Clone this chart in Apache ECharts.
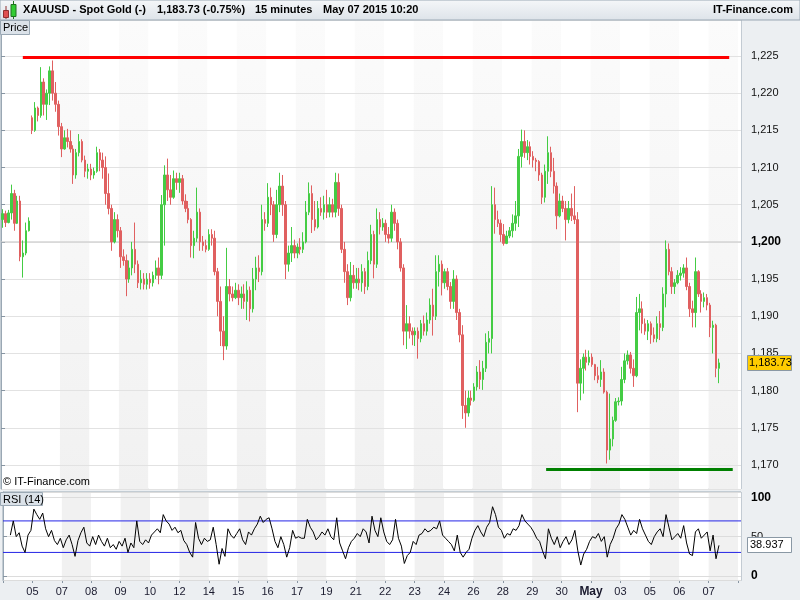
<!DOCTYPE html>
<html><head><meta charset="utf-8">
<script src="https://cdn.jsdelivr.net/npm/echarts@6/dist/echarts.min.js"></script>
<style>html,body{margin:0;padding:0;background:#eceff2;}#c{width:800px;height:600px;}</style>
</head><body><div id="c"></div>
<script>
// ---- data ----
const dayStartLabels = ['', '05','07','08','09','10','12','14','15','16','17','19','21','22','23','24','26','28','29','30','May','03','05','06','07'];
const shadedDays = [2,4,6,8,10,12,14,16,18,20,22,24];
const candlesPerDay = 10;

const opens = [
1203.0,1203.8,1202.6,1203.9,1206.5,1202.5,1205.5,1198.0,1198.5,1201.5,
1216.7,1215.0,1218.0,1217.0,1221.5,1218.5,1220.0,1223.0,1220.0,1218.5,
1215.5,1212.5,1214.0,1213.5,1212.5,1209.0,1212.0,1213.5,1211.0,1209.5,
1209.8,1209.0,1209.5,1212.0,1211.0,1210.0,1206.5,1204.5,1200.0,1203.0,
1201.5,1198.0,1197.5,1195.0,1196.5,1199.0,1197.0,1194.5,1195.0,1194.3,
1195.0,1194.5,1195.5,1196.5,1195.5,1205.0,1209.0,1207.0,1206.0,1208.5,
1208.0,1208.5,1205.5,1204.5,1203.0,1199.5,1200.5,1204.0,1200.0,1199.5,
1199.0,1201.0,1200.5,1196.0,1192.0,1188.0,1186.0,1194.0,1193.0,1192.5,
1193.5,1192.5,1193.0,1192.0,1193.5,1191.0,1195.0,1196.5,1196.0,1203.0,
1202.5,1206.0,1205.0,1201.0,1205.0,1207.5,1205.0,1197.0,1198.5,1199.5,
1198.5,1199.3,1199.0,1200.0,1204.0,1206.5,1203.0,1202.0,1204.5,1204.0,
1205.0,1204.0,1205.0,1204.0,1208.0,1204.5,1199.0,1196.0,1192.5,1195.5,
1194.5,1195.0,1194.5,1196.0,1194.0,1197.5,1201.0,1197.0,1203.0,1202.0,
1202.5,1201.0,1200.5,1204.0,1202.5,1200.0,1196.5,1188.0,1189.0,1188.0,
1187.5,1188.0,1187.0,1189.0,1188.0,1189.5,1191.5,1190.0,1196.0,1197.0,
1194.5,1196.0,1194.0,1192.0,1195.0,1190.5,1187.5,1178.0,1177.0,1179.0,
1178.7,1180.5,1182.5,1181.5,1183.0,1186.5,1187.0,1205.0,1203.0,1202.5,
1201.0,1199.8,1200.8,1201.5,1202.5,1203.5,1211.5,1213.5,1212.0,1212.8,
1211.5,1211.0,1210.8,1209.0,1206.0,1209.5,1212.0,1209.5,1207.5,1203.5,
1205.5,1204.5,1203.0,1204.5,1203.5,1203.0,1181.0,1183.0,1184.5,1183.8,
1184.5,1183.5,1182.0,1181.5,1182.5,1179.8,1172.0,1173.5,1176.0,1178.5,
1178.6,1181.5,1184.0,1184.8,1183.0,1182.0,1190.5,1191.0,1189.0,1188.0,
1189.0,1187.5,1187.0,1189.0,1188.5,1193.0,1199.0,1196.0,1194.0,1194.5,
1195.5,1195.8,1196.5,1194.0,1191.0,1190.5,1196.0,1193.0,1192.0,1192.5,
1191.5,1188.5,1188.8,1183.0];
const closes = [
1203.8,1202.6,1203.9,1206.5,1202.5,1205.5,1198.0,1198.5,1201.5,1202.8,
1215.0,1218.0,1217.0,1221.5,1218.5,1220.0,1223.0,1220.0,1218.5,1215.5,
1212.5,1214.0,1213.5,1212.5,1209.0,1212.0,1213.5,1211.0,1209.5,1209.8,
1209.0,1209.5,1212.0,1211.0,1210.0,1206.5,1204.5,1200.0,1203.0,1201.5,
1198.0,1197.5,1195.0,1196.5,1199.0,1197.0,1194.5,1195.0,1194.3,1195.0,
1194.5,1195.5,1196.5,1195.5,1205.0,1209.0,1207.0,1206.0,1208.5,1208.0,
1208.5,1205.5,1204.5,1203.0,1199.5,1200.5,1204.0,1200.0,1199.5,1199.0,
1201.0,1200.5,1196.0,1192.0,1188.0,1186.0,1194.0,1193.0,1192.5,1193.5,
1192.5,1193.0,1192.0,1193.5,1191.0,1195.0,1196.5,1196.0,1203.0,1202.5,
1206.0,1205.0,1201.0,1205.0,1207.5,1205.0,1197.0,1198.5,1199.5,1198.5,
1199.3,1199.0,1200.0,1204.0,1206.5,1203.0,1202.0,1204.5,1204.0,1205.0,
1204.0,1205.0,1204.0,1208.0,1204.5,1199.0,1196.0,1192.5,1195.5,1194.5,
1195.0,1194.5,1196.0,1194.0,1197.5,1201.0,1197.0,1203.0,1202.0,1202.5,
1201.0,1200.5,1204.0,1202.5,1200.0,1196.5,1188.0,1189.0,1188.0,1187.5,
1188.0,1187.0,1189.0,1188.0,1189.5,1191.5,1190.0,1196.0,1197.0,1194.5,
1196.0,1194.0,1192.0,1195.0,1190.5,1187.5,1178.0,1177.0,1179.0,1178.7,
1180.5,1182.5,1181.5,1183.0,1186.5,1187.0,1205.0,1203.0,1202.5,1201.0,
1199.8,1200.8,1201.5,1202.5,1203.5,1211.5,1213.5,1212.0,1212.8,1211.5,
1211.0,1210.8,1209.0,1206.0,1209.5,1212.0,1209.5,1207.5,1203.5,1205.5,
1204.5,1203.0,1204.5,1203.5,1203.0,1181.0,1183.0,1184.5,1183.8,1184.5,
1183.5,1182.0,1181.5,1182.5,1179.8,1172.0,1173.5,1176.0,1178.5,1178.6,
1181.5,1184.0,1184.8,1183.0,1182.0,1190.5,1191.0,1189.0,1188.0,1189.0,
1187.5,1187.0,1189.0,1188.5,1193.0,1199.0,1196.0,1194.0,1194.5,1195.5,
1195.8,1196.5,1194.0,1191.0,1190.5,1196.0,1193.0,1192.0,1192.5,1191.5,
1188.5,1188.8,1183.0,1183.73];
const lows = [
1201.9,1202.0,1202.5,1203.0,1201.5,1202.4,1197.4,1195.2,1198.2,1201.4,
1214.5,1214.8,1216.2,1216.7,1217.0,1216.4,1218.4,1219.0,1217.5,1214.3,
1211.4,1212.4,1212.7,1212.0,1207.8,1208.5,1211.5,1210.7,1208.7,1208.5,
1208.3,1208.5,1209.3,1209.5,1208.5,1205.0,1203.7,1198.8,1199.8,1200.6,
1196.5,1196.8,1192.7,1194.5,1195.5,1195.8,1193.8,1193.6,1193.6,1193.6,
1193.7,1194.0,1195.0,1194.3,1195.0,1199.5,1205.5,1205.0,1205.8,1207.0,
1206.6,1205.0,1204.0,1202.5,1197.9,1197.8,1200.0,1198.8,1198.8,1198.6,
1198.8,1199.5,1195.5,1190.0,1186.0,1184.1,1185.5,1192.0,1192.0,1192.3,
1191.5,1191.0,1191.0,1189.5,1189.3,1190.5,1193.5,1194.6,1195.5,1201.5,
1202.0,1203.6,1200.0,1200.5,1204.0,1203.5,1195.0,1196.0,1197.3,1197.8,
1197.8,1198.3,1198.5,1199.8,1203.6,1201.2,1201.5,1201.8,1203.5,1203.0,
1203.2,1203.3,1203.3,1203.3,1203.5,1198.5,1194.5,1191.5,1192.0,1193.7,
1193.7,1193.5,1193.3,1193.0,1193.5,1197.0,1195.1,1196.5,1201.0,1201.5,
1200.0,1199.8,1200.0,1201.5,1199.0,1196.0,1186.1,1185.6,1187.0,1186.1,
1186.0,1184.3,1186.5,1187.4,1187.4,1189.0,1187.4,1189.5,1194.0,1192.8,
1193.7,1193.5,1191.0,1191.0,1189.5,1186.5,1176.2,1175.0,1176.5,1178.0,
1178.5,1180.0,1180.2,1180.1,1182.5,1185.0,1185.0,1201.1,1202.0,1200.0,
1199.5,1199.7,1200.5,1200.6,1201.5,1202.0,1210.0,1211.3,1211.0,1210.4,
1210.0,1209.5,1208.2,1205.1,1205.3,1207.8,1208.7,1206.5,1201.7,1203.3,
1204.0,1200.2,1202.5,1202.8,1202.4,1177.1,1178.7,1179.6,1182.7,1183.4,
1183.2,1181.4,1181.0,1180.5,1179.6,1170.2,1170.7,1172.5,1175.8,1178.0,
1178.0,1181.0,1183.5,1182.3,1180.5,1181.8,1188.1,1187.7,1187.5,1186.8,
1186.3,1186.5,1186.5,1186.8,1188.0,1191.2,1195.5,1193.0,1193.0,1194.3,
1194.8,1195.2,1193.5,1189.9,1188.5,1188.5,1192.6,1190.5,1191.2,1190.8,
1187.2,1185.0,1181.8,1181.0];
const highs = [
1204.4,1204.2,1204.3,1207.7,1207.0,1206.2,1206.2,1200.2,1202.6,1203.3,
1217.0,1218.8,1218.2,1223.5,1222.0,1220.5,1223.6,1224.4,1221.5,1219.0,
1216.0,1215.0,1215.2,1215.0,1213.0,1212.5,1214.5,1213.8,1211.6,1210.5,
1210.5,1210.0,1212.8,1212.5,1212.0,1211.5,1209.2,1205.0,1204.0,1203.7,
1202.0,1199.0,1198.3,1197.5,1200.0,1202.6,1197.5,1196.2,1195.8,1195.8,
1195.8,1196.0,1197.5,1197.9,1206.3,1210.3,1211.2,1209.0,1209.6,1209.3,
1209.3,1209.0,1206.4,1205.5,1203.2,1201.5,1207.3,1204.5,1200.8,1200.3,
1201.7,1201.7,1201.5,1196.5,1194.0,1190.0,1199.2,1195.0,1194.0,1194.5,
1194.3,1194.0,1194.3,1194.7,1194.0,1196.5,1198.0,1198.2,1205.0,1204.0,
1207.9,1207.3,1205.5,1207.0,1209.3,1209.0,1205.5,1199.5,1202.0,1200.3,
1199.8,1200.5,1201.3,1205.5,1208.0,1207.6,1205.5,1205.5,1206.0,1206.2,
1207.0,1206.0,1205.8,1209.3,1209.2,1205.0,1200.0,1197.0,1197.3,1196.9,
1196.5,1196.5,1197.0,1196.5,1198.7,1202.3,1201.5,1204.5,1204.0,1203.2,
1203.0,1202.0,1205.0,1204.5,1203.0,1200.5,1197.0,1191.5,1190.0,1188.5,
1188.5,1188.5,1189.5,1190.1,1190.5,1192.4,1193.7,1198.2,1198.2,1197.5,
1196.4,1196.5,1194.6,1196.2,1195.5,1191.0,1188.8,1180.0,1180.0,1180.0,
1181.0,1183.3,1184.1,1184.0,1187.7,1188.0,1207.5,1207.3,1204.2,1203.0,
1202.4,1201.5,1202.0,1203.7,1205.5,1212.5,1215.1,1215.0,1213.7,1213.5,
1212.2,1211.3,1211.0,1209.3,1210.4,1214.2,1212.8,1211.3,1208.0,1206.5,
1206.2,1205.5,1205.5,1206.5,1207.5,1204.0,1184.2,1185.0,1185.5,1185.4,
1185.0,1183.6,1183.2,1184.1,1183.0,1180.0,1179.6,1176.5,1179.0,1179.1,
1183.2,1185.0,1185.4,1185.2,1184.2,1192.6,1193.0,1192.0,1189.7,1189.5,
1189.3,1188.5,1190.0,1190.7,1193.9,1200.2,1199.8,1196.6,1195.0,1196.2,
1196.6,1197.0,1197.9,1194.5,1192.1,1197.9,1196.2,1193.5,1193.2,1193.0,
1191.8,1189.4,1189.0,1184.3];
const rsi14 = [
null,null,52,70,50,55,38,30,52,58,
85,78,72,80,60,50,58,45,40,48,
36,46,52,40,25,45,55,62,42,38,
50,40,52,44,38,48,36,40,34,44,
38,48,30,42,36,70,44,40,46,42,
52,56,60,55,78,70,66,58,62,55,
58,45,40,30,24,68,48,40,48,44,
46,62,40,15,35,25,60,52,48,54,
60,46,40,56,52,60,66,76,68,72,
74,60,44,36,50,40,24,36,58,48,
50,48,48,72,62,56,46,50,56,52,
60,50,46,74,42,32,22,36,44,48,
54,50,60,56,42,76,58,50,74,56,
44,40,46,72,48,38,16,26,30,44,
40,52,54,60,56,58,62,60,70,52,
48,44,40,32,52,30,24,30,34,48,
58,64,56,50,62,68,88,78,62,58,
48,54,52,60,58,64,78,70,66,62,
56,48,44,32,22,60,48,40,50,36,
44,50,40,46,58,32,14,28,34,44,
50,48,54,44,50,24,40,48,60,66,
78,72,62,52,58,54,72,60,52,44,
40,50,56,60,50,78,62,46,50,54,
48,64,42,28,26,56,60,48,52,56,
32,52,22,38.937];
const rsiOverbought = 70;
const rsiOversold = 30;
const resistance = {fromDay: 0.74, toDay: 24.70, price: 1224.8};
const support = {fromDay: 18.49, toDay: 24.82, price: 1169.4};
const pivotLevel = 1200;
const lastPrice = 1183.73;
const lastRsi = 38.937;

// ---- build ----
const FONT = 'Liberation Sans, Arial, sans-serif';
const nDays = dayStartLabels.length;      // 25 day slots
const axisDays = nDays + 0.1;             // a small empty margin at the right edge
const categories = [];
for (let d = 0; d < nDays; d++) for (let j = 0; j < candlesPerDay; j++) categories.push(d + '_' + j);
categories.push('pad');
const candleData = opens.map((o, i) => [o, closes[i], lows[i], highs[i]]);

const grayGrad = new echarts.graphic.LinearGradient(0,0,0,1,[{offset:0,color:'#fbfbfb'},{offset:1,color:'#f1f1f1'}]);
const mainBand = [], rsiBand = [];
for (let d = 0; d < nDays; d++) {
  const s = shadedDays.indexOf(d) >= 0;
  mainBand.push(s ? grayGrad : '#ffffff');
  rsiBand.push(s ? '#f1f1f1' : '#ffffff');
}
mainBand.push('#ffffff'); rsiBand.push('#ffffff');
const comma = v => { const s = String(Math.round(v)); return s.length > 3 ? s.slice(0,-3) + ',' + s.slice(-3) : s; };
const hLine = (name, xIdx, yIdx, from, to, val, color, width, z) => ({
  type: 'line', name: name, xAxisIndex: xIdx, yAxisIndex: yIdx, silent: true, symbol: 'none',
  data: [[from, val], [to, val]], lineStyle: {color: color, width: width}, itemStyle: {color: color}, z: z});

const UP = '#44cc44', DOWN = '#e06060';
const chart = echarts.init(document.getElementById('c'));
const option = {
  animation: false,
  textStyle: {fontFamily: FONT},
  grid: [
    {left: 1, right: 59, top: 20, height: 469, show: true, backgroundColor: '#ffffff', borderColor: '#9aa8b4', borderWidth: 1},
    {left: 1, right: 59, top: 492, height: 88, show: true, backgroundColor: '#ffffff', borderColor: '#9aa8b4', borderWidth: 1}
  ],
  xAxis: [
    {type: 'category', gridIndex: 0, data: categories, show: false, boundaryGap: true, position: 'top'},
    {type: 'category', gridIndex: 1, data: categories, show: false, boundaryGap: true, position: 'top'},
    {type: 'value', gridIndex: 0, min: 0, max: axisDays, interval: 1, position: 'bottom', z: 0,
      axisLine: {show: false}, axisTick: {show: false}, axisLabel: {show: false}, splitLine: {show: false},
      splitArea: {show: true, areaStyle: {color: mainBand}}},
    {type: 'value', gridIndex: 1, min: 0, max: axisDays, interval: 1, position: 'bottom', z: 0,
      axisLine: {show: true, lineStyle: {color: '#9aa8b4'}},
      axisTick: {show: true, length: 3, lineStyle: {color: '#8795a2'}},
      axisLabel: {show: true, margin: 6, fontSize: 11, color: '#1a1a2e', fontFamily: FONT, showMaxLabel: false,
        formatter: v => { const t = dayStartLabels[v] || ''; return t === 'May' ? '{b|May}' : t; },
        rich: {b: {fontWeight: 'bold', fontSize: 12, color: '#1a1a2e', fontFamily: FONT}}},
      splitLine: {show: false},
      splitArea: {show: true, areaStyle: {color: rsiBand}}}
  ],
  yAxis: [
    {type: 'value', gridIndex: 0, position: 'right', min: 1166.77, max: 1229.84, splitNumber: 12, z: 1,
      axisLine: {show: true, lineStyle: {color: '#9aa8b4'}},
      axisTick: {show: true, length: 4, lineStyle: {color: '#8795a2'}},
      axisLabel: {margin: 10, fontSize: 11, color: '#111', fontFamily: FONT, showMinLabel: false, showMaxLabel: false,
        formatter: v => (Math.abs(v % 5) > 0.01 ? '' : (Math.round(v) === pivotLevel ? '{b|' + comma(v) + '}' : comma(v))),
        rich: {b: {fontWeight: 'bold', fontSize: 12, color: '#000', fontFamily: FONT}}},
      splitLine: {show: true, lineStyle: {color: '#e2e2e2'}}},
    {type: 'value', gridIndex: 1, position: 'right', min: -5, max: 106.7, splitNumber: 2, z: 1,
      axisLine: {show: true, lineStyle: {color: '#9aa8b4'}},
      axisTick: {show: true, length: 4, lineStyle: {color: '#8795a2'}},
      axisLabel: {margin: 10, fontSize: 11, color: '#111', fontFamily: FONT, showMinLabel: false, showMaxLabel: false,
        formatter: v => (v === 50 ? '50' : (v === 0 || v === 100 ? '{b|' + v + '}' : '')),
        rich: {b: {fontWeight: 'bold', fontSize: 12, color: '#000', fontFamily: FONT}}},
      splitLine: {show: true, lineStyle: {color: '#dcdcdc'}}}
  ],
  series: [
    {type: 'candlestick', name: 'XAUUSD', xAxisIndex: 0, yAxisIndex: 0, data: candleData, barWidth: 2,
      itemStyle: {color: UP, color0: DOWN, borderColor: UP, borderColor0: DOWN, borderWidth: 1}},
    hLine('pivot', 2, 0, 0, axisDays, pivotLevel, '#cccccc', 1, 1),
    hLine('resistance', 2, 0, resistance.fromDay, resistance.toDay, resistance.price, '#ff0000', 3, 5),
    hLine('support', 2, 0, support.fromDay, support.toDay, support.price, '#008000', 3, 5),
    hLine('overbought', 3, 1, 0, axisDays, rsiOverbought, '#2424e6', 1, 3),
    hLine('oversold', 3, 1, 0, axisDays, rsiOversold, '#2424e6', 1, 3),
    {type: 'line', name: 'RSI (14)', xAxisIndex: 1, yAxisIndex: 1, data: rsi14, symbol: 'none', connectNulls: false,
      lineStyle: {color: '#000', width: 1}, itemStyle: {color: '#000'}, z: 4}
  ]
};
chart.setOption(option);

const py = chart.convertToPixel({yAxisIndex: 0}, lastPrice);
const ry = chart.convertToPixel({yAxisIndex: 1}, lastRsi);
const txt = (x, y, s, extra) => Object.assign({type: 'text', x: x, y: y, z: 100,
  style: Object.assign({text: s, font: '11px ' + FONT, fill: '#000', textVerticalAlign: 'middle'}, extra || {})});
const graphics = [
  {type: 'rect', z: 90, shape: {x: 0, y: 0, width: 800, height: 20},
    style: {fill: new echarts.graphic.LinearGradient(0,0,0,1,[{offset:0,color:'#f5f7f9'},{offset:1,color:'#dde3e9'}]), stroke: '#9aa8b4', lineWidth: 1}},
  {type: 'line', z: 100, shape: {x1: 6, y1: 6, x2: 6, y2: 19}, style: {stroke: '#903030', lineWidth: 1}},
  {type: 'rect', z: 101, shape: {x: 3.5, y: 10.5, width: 5, height: 7}, style: {fill: '#e05050', stroke: '#903030', lineWidth: 1}},
  {type: 'line', z: 100, shape: {x1: 13.5, y1: 1, x2: 13.5, y2: 19}, style: {stroke: '#207020', lineWidth: 1}},
  {type: 'rect', z: 101, shape: {x: 11, y: 4.5, width: 5, height: 12}, style: {fill: '#33cc33', stroke: '#207020', lineWidth: 1}},
  txt(23, 10, 'XAUUSD - Spot Gold (-)', {font: 'bold 11px ' + FONT}),
  txt(157, 10, '1,183.73 (-0.75%)', {font: 'bold 11px ' + FONT}),
  txt(255, 10, '15 minutes', {font: 'bold 11px ' + FONT}),
  txt(323, 10, 'May 07 2015 10:20', {font: 'bold 11px ' + FONT}),
  txt(713, 10, 'IT-Finance.com', {font: 'bold 11px ' + FONT}),
  {type: 'rect', z: 95, shape: {x: 0.5, y: 20.5, width: 29, height: 14}, style: {fill: '#dbe2e9', stroke: '#9aa8b4', lineWidth: 1}},
  txt(3, 28, 'Price'),
  txt(3, 482, '\u00a9 IT-Finance.com'),
  {type: 'rect', z: 95, shape: {x: 0.5, y: 492.5, width: 42, height: 13}, style: {fill: '#dbe2e9', stroke: '#9aa8b4', lineWidth: 1}},
  txt(3, 499.5, 'RSI (14)'),
  {type: 'rect', z: 100, shape: {x: 747.5, y: Math.round(py) - 7.5, width: 44, height: 15}, style: {fill: '#ffcc00', stroke: '#8a98a5', lineWidth: 1}},
  txt(749, Math.round(py), '1,183.73'),
  {type: 'rect', z: 100, shape: {x: 747.5, y: Math.round(ry) - 7.5, width: 44, height: 15}, style: {fill: '#ffffff', stroke: '#8a98a5', lineWidth: 1}},
  txt(750, Math.round(ry), String(lastRsi))
];
chart.setOption({graphic: graphics});
</script></body></html>
